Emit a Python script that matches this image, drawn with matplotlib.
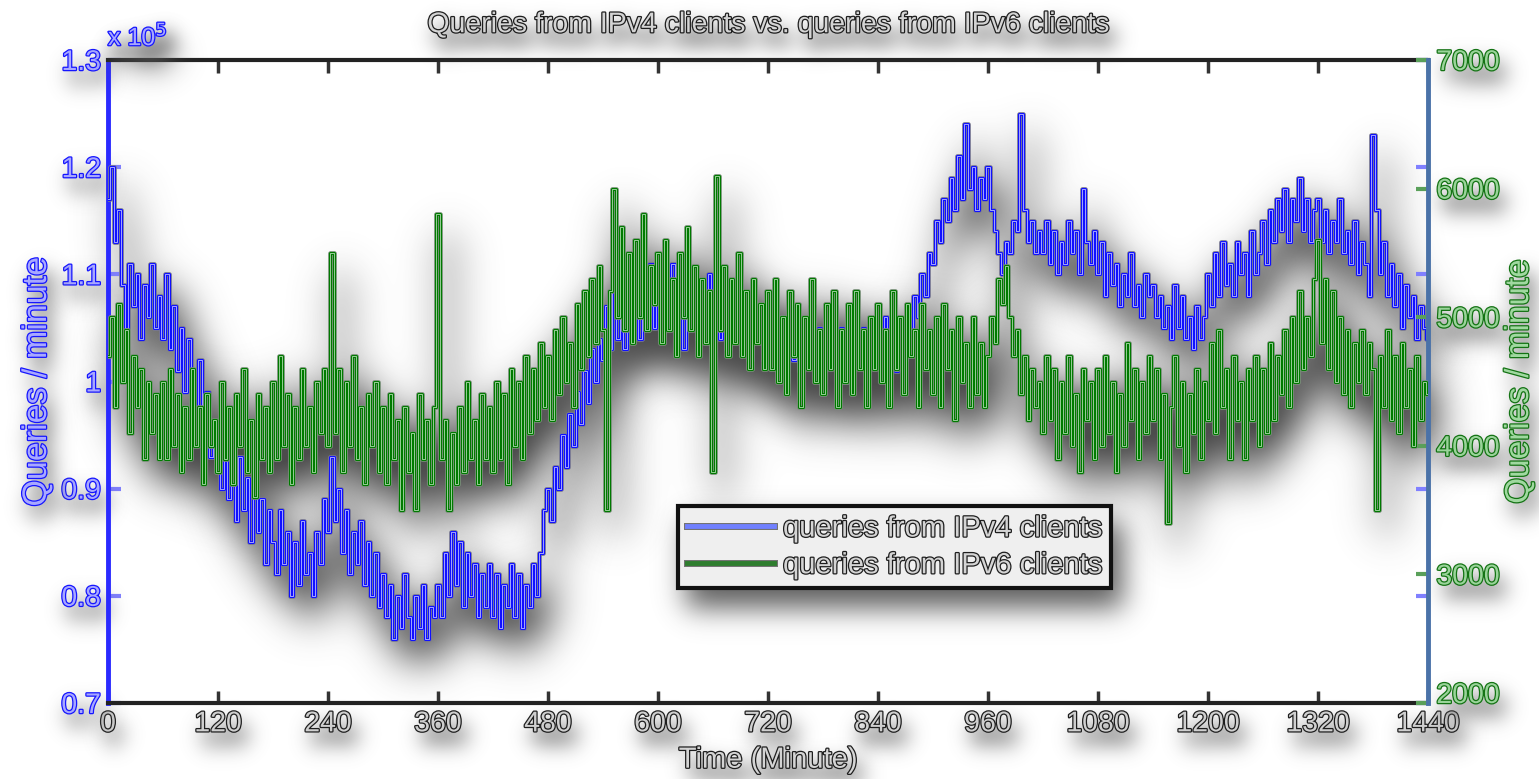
import numpy as np
import matplotlib
matplotlib.use("Agg")
import matplotlib.pyplot as plt
import matplotlib.patheffects as pe
import matplotlib.transforms as mtransforms
from matplotlib.lines import Line2D

# ---------------- data (sampled every 4 minutes, one row = 1 hour) ----------------
sample_step_min = 4
ipv4_e5 = [  # queries / minute from IPv4 clients, in units of 1e5
    1.17, 1.20, 1.13, 1.16, 1.09, 1.05, 1.11, 1.07, 1.10, 1.04, 1.09, 1.06, 1.11, 1.05, 1.08,
    1.04, 1.10, 1.03, 1.07, 1.01, 1.05, 0.99, 1.04, 1.00, 0.97, 1.02, 0.95, 0.99, 0.93, 0.96,
    0.94, 0.90, 0.95, 0.89, 0.92, 0.87, 0.93, 0.88, 0.91, 0.85, 0.90, 0.86, 0.89, 0.83, 0.88,
    0.85, 0.82, 0.88, 0.83, 0.86, 0.80, 0.85, 0.81, 0.87, 0.82, 0.84, 0.80, 0.86, 0.83, 0.89,
    0.86, 0.93, 0.87, 0.90, 0.84, 0.88, 0.82, 0.86, 0.83, 0.87, 0.81, 0.85, 0.80, 0.84, 0.79,
    0.82, 0.78, 0.81, 0.76, 0.80, 0.77, 0.82, 0.78, 0.76, 0.80, 0.77, 0.81, 0.76, 0.79, 0.78,
    0.81, 0.78, 0.84, 0.80, 0.86, 0.81, 0.85, 0.79, 0.84, 0.80, 0.83, 0.78, 0.82, 0.79, 0.83,
    0.78, 0.82, 0.77, 0.81, 0.79, 0.83, 0.78, 0.82, 0.77, 0.81, 0.79, 0.83, 0.80, 0.84, 0.88,
    0.90, 0.87, 0.92, 0.90, 0.95, 0.92, 0.97, 0.94, 0.99, 0.96, 1.01, 0.98, 1.03, 1.00, 1.04,
    1.02, 1.07, 1.03, 1.09, 1.04, 1.08, 1.03, 1.10, 1.05, 1.08, 1.04, 1.09, 1.06, 1.11, 1.05,
    1.09, 1.04, 1.08, 1.05, 1.11, 1.06, 1.09, 1.03, 1.08, 1.05, 1.10, 1.04, 1.07, 1.05, 1.10,
    1.06, 1.09, 1.04, 1.08, 1.03, 1.07, 1.05, 1.09, 1.03, 1.06, 1.02, 1.07, 1.04, 1.06, 1.02,
    1.05, 1.02, 1.07, 1.03, 1.06, 1.00, 1.04, 1.02, 1.06, 1.01, 1.05, 1.03, 1.07, 1.02, 1.05,
    1.01, 1.06, 1.03, 1.07, 1.02, 1.05, 1.00, 1.04, 1.02, 1.06, 1.03, 1.05, 1.01, 1.04, 1.02,
    1.05, 1.02, 1.06, 1.03, 1.05, 1.01, 1.04, 1.02, 1.06, 1.04, 1.08, 1.06, 1.10, 1.08, 1.12,
    1.11, 1.15, 1.13, 1.17, 1.15, 1.19, 1.16, 1.21, 1.17, 1.24, 1.18, 1.20, 1.16, 1.19, 1.17,
    1.20, 1.16, 1.14, 1.12, 1.10, 1.13, 1.12, 1.15, 1.14, 1.25, 1.16, 1.13, 1.15, 1.12, 1.14,
    1.12, 1.15, 1.11, 1.14, 1.10, 1.13, 1.11, 1.15, 1.12, 1.14, 1.10, 1.18, 1.13, 1.11, 1.14,
    1.10, 1.13, 1.08, 1.12, 1.09, 1.11, 1.07, 1.10, 1.08, 1.12, 1.07, 1.09, 1.06, 1.10, 1.08,
    1.09, 1.06, 1.08, 1.05, 1.07, 1.04, 1.09, 1.05, 1.08, 1.04, 1.06, 1.03, 1.07, 1.04, 1.06,
    1.10, 1.07, 1.12, 1.08, 1.13, 1.09, 1.11, 1.08, 1.13, 1.10, 1.12, 1.08, 1.14, 1.10, 1.12,
    1.15, 1.11, 1.16, 1.13, 1.17, 1.14, 1.18, 1.13, 1.17, 1.15, 1.19, 1.14, 1.17, 1.13, 1.16,
    1.17, 1.13, 1.16, 1.12, 1.15, 1.13, 1.17, 1.12, 1.14, 1.11, 1.15, 1.10, 1.13, 1.11, 1.08,
    1.23, 1.16, 1.10, 1.13, 1.08, 1.11, 1.07, 1.10, 1.05, 1.09, 1.06, 1.08, 1.04, 1.07, 1.05,
    1.04,
]
ipv6 = [  # queries / minute from IPv6 clients
    4700, 5000, 4300, 5100, 4500, 4900, 4100, 4700, 4300, 4600, 3900, 4500, 4100, 4400, 3900,
    4500, 3900, 4600, 4000, 4400, 3800, 4300, 3900, 4600, 4000, 4300, 3700, 4400, 4000, 4200,
    3800, 4500, 3900, 4300, 3700, 4400, 4000, 4600, 3800, 4200, 3600, 4400, 3900, 4300, 3800,
    4500, 3900, 4700, 4000, 4400, 3700, 4300, 3900, 4600, 4000, 4300, 3800, 4500, 4100, 4600,
    4000, 5500, 4100, 4600, 3800, 4500, 4000, 4700, 3900, 4300, 3700, 4400, 4000, 4500, 3800,
    4300, 3700, 4400, 3900, 4200, 3500, 4300, 3800, 4100, 3500, 4400, 3900, 4200, 3700, 4300,
    5800, 3900, 4200, 3500, 4100, 3700, 4300, 3800, 4500, 3900, 4200, 3700, 4400, 3900, 4300,
    3800, 4500, 3900, 4400, 3700, 4600, 4000, 4500, 3900, 4700, 4100, 4600, 4200, 4800, 4300,
    4700, 4200, 4900, 4400, 5000, 4500, 4800, 4300, 5100, 4600, 5200, 4700, 5300, 4800, 5400,
    4900, 3500, 5200, 6000, 5000, 5700, 4900, 5500, 4800, 5600, 5000, 5800, 4900, 5400, 5100,
    5500, 4800, 5600, 4900, 5300, 4700, 5500, 5000, 5700, 4900, 5400, 4700, 5300, 4800, 5200,
    3800, 6100, 4900, 5400, 4700, 5300, 4800, 5500, 4700, 5200, 4600, 5300, 4800, 5100, 4600,
    5200, 4600, 5300, 4500, 5000, 4400, 5200, 4700, 5100, 4300, 5000, 4600, 5300, 4500, 4900,
    4400, 5100, 4600, 5200, 4300, 4900, 4500, 5100, 4400, 5200, 4600, 4900, 4300, 5000, 4600,
    5100, 4500, 4900, 4300, 5200, 4600, 5000, 4400, 5100, 4700, 4900, 4300, 5100, 4600, 4900,
    4400, 5000, 4300, 5100, 4600, 4900, 4200, 5000, 4500, 4800, 4300, 5000, 4400, 4800, 4300,
    4700, 5000, 4800, 5300, 5100, 5400, 5000, 4700, 4900, 4400, 4700, 4200, 4600, 4300, 4500,
    4100, 4700, 4200, 4600, 3900, 4500, 4100, 4700, 4000, 4400, 3800, 4600, 4200, 4500, 3900,
    4600, 4000, 4700, 4100, 4500, 3800, 4400, 4000, 4800, 4200, 4600, 3900, 4500, 4100, 4700,
    4200, 4600, 3900, 4400, 3400, 4300, 4700, 4000, 4500, 3800, 4400, 4100, 4600, 3900, 4500,
    4200, 4800, 4100, 4900, 4300, 4600, 3900, 4700, 4200, 4500, 3900, 4600, 4200, 4700, 4000,
    4600, 4100, 4800, 4200, 4700, 4400, 4900, 4300, 5000, 4500, 5200, 4600, 5000, 4700, 5300,
    5600, 4800, 5300, 4600, 5200, 4500, 5000, 4400, 4900, 4300, 4800, 4500, 4900, 4400, 4800,
    4600, 3500, 4700, 4300, 4900, 4200, 4700, 4100, 4800, 4300, 4600, 4000, 4700, 4200, 4500,
    4400,
]
x_ticks = [0, 120, 240, 360, 480, 600, 720, 840, 960, 1080, 1200, 1320, 1440]
left_ticks = [0.7, 0.8, 0.9, 1.0, 1.1, 1.2, 1.3]
left_labels = ["0.7", "0.8", "0.9", "1", "1.1", "1.2", "1.3"]
right_ticks = [2000, 3000, 4000, 5000, 6000, 7000]
title = "Queries from IPv4 clients vs. queries from IPv6 clients"
series_labels = ["queries from IPv4 clients", "queries from IPv6 clients"]

minutes = np.arange(len(ipv4_e5)) * sample_step_min

# ---------------- shadow filters ----------------
def _blur(a, s):
    ky = np.fft.fftfreq(a.shape[0])[:, None]
    kx = np.fft.rfftfreq(a.shape[1])[None, :]
    g = np.exp(-2 * (np.pi * s) ** 2 * (ky ** 2 + kx ** 2))
    return np.fft.irfft2(np.fft.rfft2(a) * g, s=a.shape)


class ShadowOnly:
    def __init__(self, sigma=9, strength=1.2, dx=8, dy=12, pad=60, gray=0.3):
        self.sigma, self.strength = sigma, strength
        self.dx, self.dy, self.pad, self.gray = dx, dy, pad, gray

    def shadow(self, im):
        p = self.pad
        a = np.pad(im[:, :, 3], p)
        a = np.roll(a, self.dx, axis=1)
        a = np.roll(a, self.dy, axis=0)
        sh = np.clip(_blur(a, self.sigma) * self.strength, 0, 1)
        out = np.zeros(sh.shape + (4,))
        out[..., :3] = self.gray
        out[..., 3] = sh
        return out

    def __call__(self, im, dpi):
        return self.shadow(im), -self.pad, -self.pad


class WithShadow(ShadowOnly):
    def __call__(self, im, dpi):
        sh = self.shadow(im)
        p = self.pad
        src = np.pad(im, ((p, p), (p, p), (0, 0)))
        sa = src[..., 3:4]
        ba = sh[..., 3:4]
        oa = sa + ba * (1 - sa)
        rgb = (src[..., :3] * sa + sh[..., :3] * ba * (1 - sa)) / np.maximum(oa, 1e-6)
        return np.concatenate([rgb, oa], axis=-1), -p, -p


# ---------------- figure ----------------
plt.rcParams["font.family"] = ["Liberation Sans", "DejaVu Sans"]
BLUE = "#1010ff"
GREEN = "#007a00"
fig = plt.figure(figsize=(15.39, 7.79), dpi=100)
fig.patch.set_facecolor("white")
ax = fig.add_axes([108 / 1539, 76 / 779, 1320 / 1539, 643 / 779])
ax2 = ax.twinx()
ax.set_facecolor("white")

# soft drop shadows of both lines (drawn beneath everything)
shadow_filter = ShadowOnly(sigma=20, strength=1.15, dx=10, dy=22, pad=120, gray=0.3)
sh1, = ax.plot(minutes, ipv4_e5, color="k", lw=4, zorder=1, drawstyle="steps-mid")
sh1.set_agg_filter(shadow_filter)
sh2, = ax.plot(minutes, ipv6, color="k", lw=4, zorder=1, drawstyle="steps-mid",
               transform=ax2.transData)
sh2.set_agg_filter(shadow_filter)

line_pe_b = [pe.Stroke(linewidth=3.4, foreground="#7a7a90"), pe.Normal()]
line_pe_g = [pe.Stroke(linewidth=3.4, foreground="#7a907a"), pe.Normal()]
l1, = ax.plot(minutes, ipv4_e5, color=BLUE, lw=2.2, zorder=3, drawstyle="steps-mid",
              path_effects=line_pe_b)
ax.plot(minutes, ipv4_e5, color="#e4e6ff", lw=0.7, zorder=3, alpha=0.7,
        drawstyle="steps-mid")
l2, = ax2.plot(minutes, ipv6, color=GREEN, lw=2.2, zorder=3, drawstyle="steps-mid",
               path_effects=line_pe_g)
ax2.plot(minutes, ipv6, color="#d8f2d8", lw=0.7, zorder=3, alpha=0.7,
         drawstyle="steps-mid")

ax.set_xlim(0, 1440)
ax.set_ylim(0.7, 1.3)
ax2.set_ylim(2000, 7000)
ax.set_xticks(x_ticks)
ax.set_xticklabels([str(t) for t in x_ticks])
ax.set_yticks(left_ticks)
ax.set_yticklabels(left_labels)
ax2.set_yticks(right_ticks)
ax2.set_yticklabels([str(t) for t in right_ticks])

TL = 20.5
ax.tick_params(axis="x", direction="in", top=True, length=9, width=2.5, colors="#333333",
               labelsize=TL, labelcolor="#cfcfcf", pad=6)
ax.tick_params(axis="y", direction="in", right=True, length=9, width=3, colors="#8080ff",
               labelsize=TL, labelcolor="#a8a8ff", pad=5)
ax2.tick_params(axis="y", direction="in", length=9, width=3, colors="#5aa05a",
                labelsize=TL, labelcolor="#9ad49a", pad=6)

ax.spines["right"].set_visible(False)
for s in ["left", "top", "bottom"]:
    ax2.spines[s].set_visible(False)
ax.spines["left"].set_color("#2a2aff")
ax.spines["left"].set_linewidth(3.5)
ax.spines["top"].set_color("#222222")
ax.spines["top"].set_linewidth(3)
ax.spines["bottom"].set_color("#222222")
ax.spines["bottom"].set_linewidth(3)
ax2.spines["right"].set_color("#4a72a8")
ax2.spines["right"].set_linewidth(3.5)

gray_pe = [pe.Stroke(linewidth=1.8, foreground="#1e1e1e"), pe.Normal()]
blue_pe = [pe.Stroke(linewidth=1.8, foreground="#1515ff"), pe.Normal()]
green_pe = [pe.Stroke(linewidth=1.8, foreground="#137313"), pe.Normal()]

t = ax.set_title(title, fontsize=20.5, color="#d4d4d4", pad=20, path_effects=gray_pe)
xl = ax.set_xlabel("Time (Minute)", fontsize=21, color="#d4d4d4", labelpad=6,
                   path_effects=gray_pe)
yl = ax.set_ylabel("Queries / minute", fontsize=24.5, color="#a8a8ff", labelpad=6,
                   path_effects=blue_pe)
yr = ax2.set_ylabel("Queries / minute", fontsize=24, color="#a0d8a0", labelpad=3,
                    path_effects=green_pe)
ex = ax.annotate(r"x 10$^{5}$", xy=(0, 1), xycoords="axes fraction", xytext=(0, 7),
                 textcoords="offset points", ha="left", va="bottom", fontsize=18,
                 color="#a8a8ff", path_effects=blue_pe)

handles = [Line2D([], [], color="#7080ff", lw=3.5,
                  path_effects=[pe.Stroke(linewidth=5, foreground="#707070"), pe.Normal()]),
           Line2D([], [], color="#2e7d2e", lw=3.5,
                  path_effects=[pe.Stroke(linewidth=5, foreground="#707070"), pe.Normal()])]
leg = ax2.legend(handles, series_labels, loc="lower left",
                 bbox_to_anchor=(678 / 1539, 191 / 779), bbox_transform=fig.transFigure,
                 fontsize=21, handlelength=3.0, handletextpad=0.3, borderpad=0.3,
                 labelspacing=0.3, fancybox=False, framealpha=1, edgecolor="#111111",
                 borderaxespad=0)
leg.get_frame().set_linewidth(3)
leg.get_frame().set_facecolor("#efefef")
for txt in leg.get_texts():
    txt.set_color("#d4d4d4")
    txt.set_path_effects(gray_pe)
leg.set_zorder(10)
leg.set_agg_filter(WithShadow(sigma=14, strength=0.9, dx=10, dy=18, pad=80, gray=0.3))

fig.canvas.draw()
text_filter = WithShadow(sigma=10, strength=0.9, dx=6, dy=13, pad=50, gray=0.35)
for obj in [t, xl, yl, yr, ex]:
    obj.set_agg_filter(text_filter)
for lab in ax.get_xticklabels():
    lab.set_path_effects(gray_pe)
    lab.set_agg_filter(text_filter)
for lab in ax.get_yticklabels():
    lab.set_path_effects(blue_pe)
    lab.set_agg_filter(text_filter)
for lab in ax2.get_yticklabels():
    lab.set_path_effects(green_pe)
    lab.set_agg_filter(text_filter)
    if lab.get_text() == "2000":
        lab.set_transform(lab.get_transform() +
                          mtransforms.ScaledTranslation(0, 10 / 100, fig.dpi_scale_trans))

fig.savefig("out.png", dpi=100, facecolor="white")
